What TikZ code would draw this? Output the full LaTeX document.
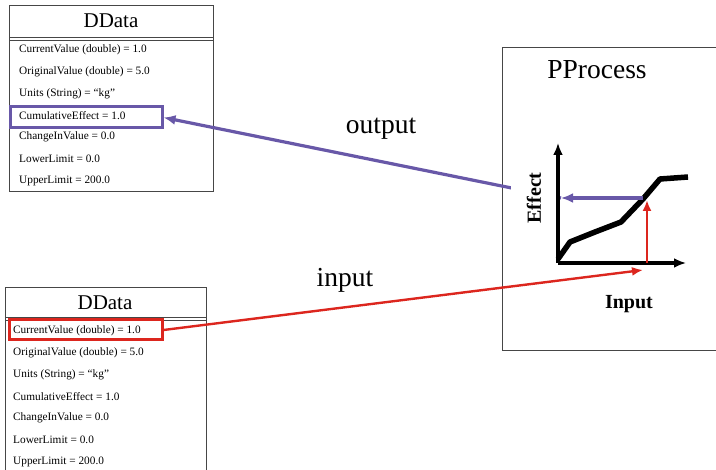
\documentclass[tikz,border=0pt]{standalone}
\usepackage{fontspec}
\setmainfont{Liberation Serif}
\usepackage{tikz}
\usetikzlibrary{arrows.meta, positioning}
\usepackage{xcolor}
\definecolor{outpurple}{RGB}{104,88,168}
\definecolor{inred}{RGB}{220,38,30}
\definecolor{boxgray}{RGB}{70,70,70}

\begin{document}
\begin{tikzpicture}[
    x=1pt, y=-1pt,
    classbox/.style={draw=boxgray, line width=0.9pt},
    row/.style={anchor=west, inner sep=0pt, font=\fontsize{11.3}{13}\selectfont},
    classtitle/.style={inner sep=0pt, font=\fontsize{21}{24}\selectfont},
    bigtext/.style={inner sep=0pt, font=\fontsize{27.5}{30}\selectfont},
    axislabel/.style={inner sep=0pt, font=\fontsize{20}{24}\selectfont\bfseries},
    purplebox/.style={draw=outpurple, line width=3pt, minimum width=152pt, minimum height=21pt, inner sep=0pt},
    redbox/.style={draw=inred, line width=3pt, minimum width=153pt, minimum height=20pt, inner sep=0pt},
    outarrow/.style={outpurple, line width=3.2pt, -{Latex[length=12pt, width=10pt]}},
    inarrow/.style={inred, line width=2.4pt, -{Latex[length=11pt, width=9pt]}},
    axis/.style={black, line width=3.2pt, -{Latex[length=12pt, width=10pt]}},
  ]

  \useasboundingbox (0,0) rectangle (716,470);

  \def\dy{21.8}

  % --- top DData box ---
  \draw[classbox] (9,5) rectangle (213,191);
  \draw[boxgray, line width=0.9pt] (9,37.5) -- (213,37.5);
  \draw[boxgray, line width=0.9pt] (9,40) -- (213,40);
  \node[classtitle] (title1) at (111,21) {DData};
  \foreach \i/\t in {1/{CurrentValue (double) = 1.0}, 2/{OriginalValue (double) = 5.0},
      3/{Units (String) = “kg”}, 4/{CumulativeEffect = 1.0}, 5/{ChangeInValue = 0.0},
      6/{LowerLimit = 0.0}, 7/{UpperLimit = 200.0}} {
    \node[row] (a\i) at (19,{50+(\i-1)*\dy}) {\t};
  }
  \node[purplebox] (cum) at (86,117.5) {};

  % --- bottom DData box ---
  \draw[classbox] (5,287) rectangle (206,480);
  \draw[boxgray, line width=0.9pt] (5,317.5) -- (206,317.5);
  \draw[boxgray, line width=0.9pt] (5,320) -- (206,320);
  \node[classtitle] (title2) at (105,303) {DData};
  \foreach \i/\t in {1/{CurrentValue (double) = 1.0}, 2/{OriginalValue (double) = 5.0},
      3/{Units (String) = “kg”}, 4/{CumulativeEffect = 1.0}, 5/{ChangeInValue = 0.0},
      6/{LowerLimit = 0.0}, 7/{UpperLimit = 200.0}} {
    \node[row] (b\i) at (13,{331+(\i-1)*\dy}) {\t};
  }
  \node[redbox] (cur) at (85.5,330) {};

  % --- PProcess box ---
  \draw[classbox] (502,47) rectangle (725,350);
  \node[bigtext] (proc) at (597,70) {PProcess};

  % --- chart points ---
  \coordinate (orig) at (558,263);
  \coordinate (ytip) at (558,143);
  \coordinate (xtip) at (686,263);
  \coordinate (ebase) at (647,263);
  \coordinate (ecurve) at (647,200);
  \coordinate (ecurve2) at (643,198);
  \coordinate (eaxis) at (561,198);
  \coordinate (inend) at (643,270);

  % --- connectors ---
  \draw[outarrow] (eaxis) -- (cum.east);
  \draw[inarrow] (cur.east) -- (inend);

  % --- chart ---
  \node[axislabel, rotate=90, fill=white, minimum height=46pt, minimum width=62pt] (eff) at (534,198) {Effect};
  \draw[axis] (orig) -- (ytip);
  \draw[axis] (orig) -- (xtip);
  \draw[black, line width=5.5pt, line join=round]
    plot coordinates {(558,259) (570,242) (595,232) (621,222) (643,199) (660,179) (688,177)};
  \node[axislabel] (inp) at (629,304) {Input};
  \draw[outarrow] (ecurve2) -- (eaxis);
  \draw[inarrow] (ebase) -- (ecurve);

  % --- labels ---
  \node[bigtext] (outlbl) at (381,129) {output};
  \node[bigtext] (inlbl) at (345,280) {input};

\end{tikzpicture}
\end{document}
